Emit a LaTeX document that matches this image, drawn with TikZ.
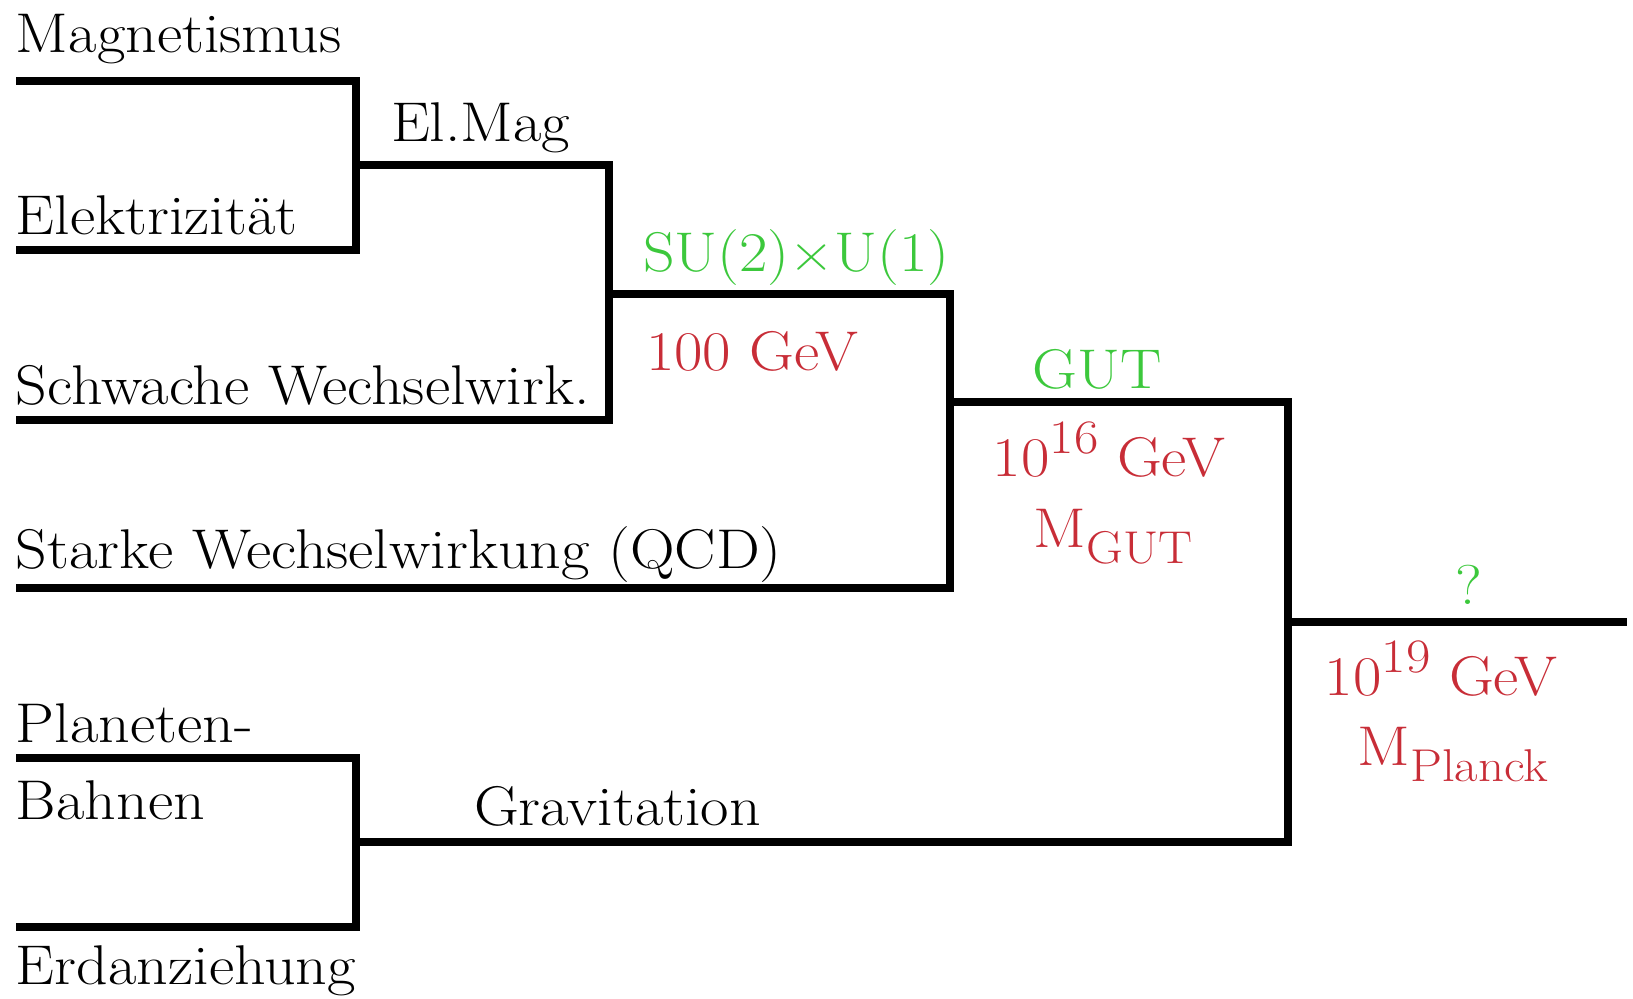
\documentclass[tikz,border=0pt]{standalone}
\usepackage{fontspec}
\definecolor{lblgreen}{RGB}{60,200,60}
\definecolor{lblred}{RGB}{200,45,55}
\newcommand{\supx}[1]{\raisebox{11.5pt}{\fontsize{24}{24}\selectfont #1}}
\newcommand{\subx}[1]{\raisebox{-8pt}{\fontsize{23}{23}\selectfont #1}}
\newcommand{\hstr}[1]{\scalebox{1.105}[1]{#1}}
\begin{document}
\begin{tikzpicture}[x=0.5pt,y=-0.5pt,
  bar/.style={line width=4.1pt, line join=miter},
  lbl/.style={inner sep=0pt, outer sep=0pt, font=\fontsize{28}{34}\selectfont},
  lblw/.style={lbl, anchor=base west},
  lblc/.style={lbl, anchor=base},
  grn/.style={text=lblgreen},
  rd/.style={text=lblred}]
\useasboundingbox (0,0) rectangle (1633,998);
% coordinates
\coordinate (mag0) at (16,81);
\coordinate (ele0) at (16,250);
\coordinate (j1) at (356,165);
\coordinate (sch0) at (16,420);
\coordinate (j2) at (609,294);
\coordinate (sta0) at (16,588);
\coordinate (j3) at (950,402);
\coordinate (pla0) at (16,758);
\coordinate (erd0) at (16,927);
\coordinate (j4) at (356,842);
\coordinate (j5) at (1288,622);
\coordinate (end) at (1627,622);
% brackets
\draw[bar] (mag0) -| (j1) |- (ele0);
\draw[bar] (j1) -| (j2) |- (sch0);
\draw[bar] (j2) -| (j3) |- (sta0);
\draw[bar] (pla0) -| (j4) |- (erd0);
\draw[bar] (j3) -| (j5) |- (j4);
\draw[bar] (j5) -- (end);
% labels
\node[lblw] (tmag) at (16,52) {\hstr{Magnetismus}};
\node[lblw] (tele) at (16,234) {\hstr{Elektrizität}};
\node[lblw] (telm) at (391,141) {\hstr{El.Mag}};
\node[lblw] (tsch) at (16,404) {\hstr{Schwache Wechselwirk.}};
\node[lblw,grn] (tsu) at (643,271) {\hstr{SU(2)×U(1)}};
\node[lblw,rd] (t100) at (646,370) {\hstr{100 GeV}};
\node[lblw] (tsta) at (16,568) {\hstr{Starke Wechselwirkung (QCD)}};
\node[lblc,grn] (tgut) at (1097,388) {\hstr{GUT}};
\node[lblc,rd] (t16) at (1109,476) {\hstr{10\supx{16} GeV}};
\node[lblc,rd] (tmgut) at (1113,547) {\hstr{M\subx{GUT}}};
\node[lblc,grn] (tq) at (1469,604) {\hstr{?}};
\node[lblc,rd] (t19) at (1441,695) {\hstr{10\supx{19} GeV}};
\node[lblc,rd] (tmpl) at (1453,765) {\hstr{M\subx{Planck}}};
\node[lblw] (tpla) at (16,742) {\hstr{Planeten-}};
\node[lblw] (tbah) at (16,819) {\hstr{Bahnen}};
\node[lblw] (tgra) at (474,825) {\hstr{Gravitation}};
\node[lblw] (terd) at (16,984) {\hstr{Erdanziehung}};
\end{tikzpicture}
\end{document}
